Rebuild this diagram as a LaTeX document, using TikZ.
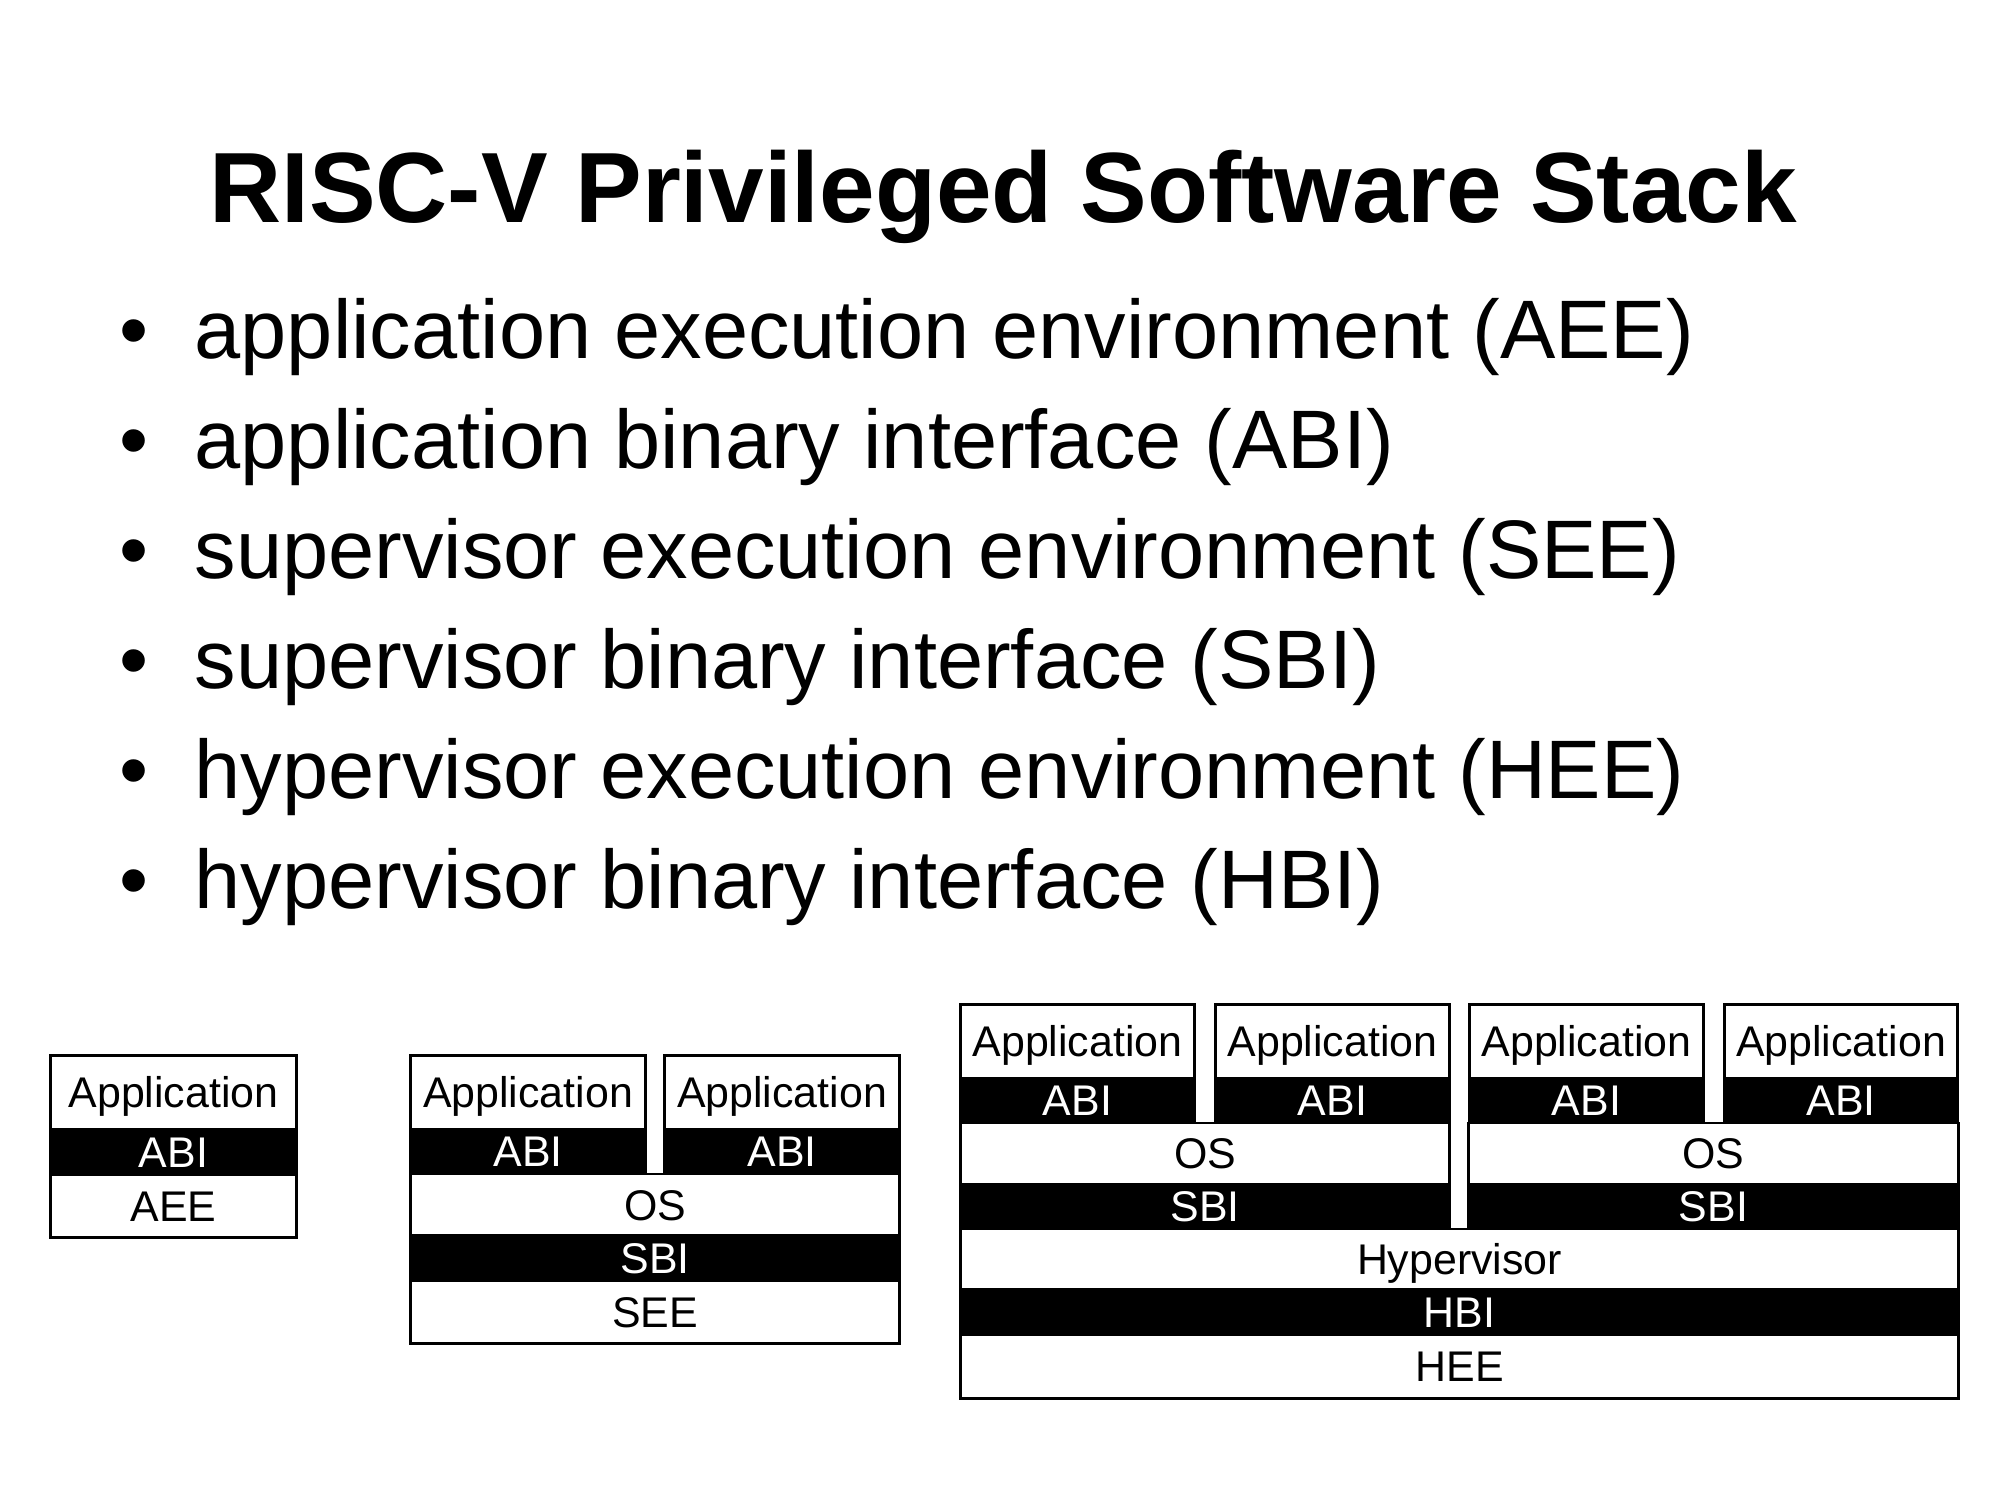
\documentclass[tikz,border=0pt]{standalone}
\usepackage{fontspec}
\setmainfont{Liberation Sans}
\begin{document}
\begin{tikzpicture}[x=0.01cm, y=-0.01cm,
  titlefont/.style={font=\fontsize{28.4}{34}\selectfont\bfseries},
  itemfont/.style={font=\fontsize{23.6}{29}\selectfont},
  layer/.style={draw=black, line width=0.85pt, inner sep=0pt,
    font=\fontsize{12.2}{14}\selectfont, text height=8.7pt, text depth=0pt},
  whitelayer/.style={layer, fill=white, text=black},
  blacklayer/.style={layer, fill=black, text=white},
]
\useasboundingbox[fill=white] (0,0) rectangle (2000,1500);

% heading
\node[titlefont, anchor=base] (title) at (1003,222) {RISC-V Privileged Software Stack};

% bullet list
\foreach \txt [count=\i from 0] in {
    application execution environment (AEE),
    application binary interface (ABI),
    supervisor execution environment (SEE),
    supervisor binary interface (SBI),
    hypervisor execution environment (HEE),
    hypervisor binary interface (HBI)} {
  \node[itemfont, anchor=base] (dot\i) at (134,358+110*\i) {•};
  \node[itemfont, anchor=base west, inner xsep=0pt] (item\i) at (194,358+110*\i) {\txt};
}

% stack 1: application on an AEE
\node[whitelayer, minimum width=2.45cm, minimum height=0.73cm] (aApp) at (173.5,1092.5) {Application};
\node[blacklayer, minimum width=2.45cm, minimum height=0.46cm] (aABI) at (173.5,1152) {ABI};
\node[whitelayer, minimum width=2.45cm, minimum height=0.62cm] (aAEE) at (173.5,1206) {AEE};

% stack 2: applications on an OS on a SEE
\node[whitelayer, minimum width=2.34cm, minimum height=0.73cm] (bAppL) at (528,1092.5) {Application};
\node[whitelayer, minimum width=2.34cm, minimum height=0.73cm] (bAppR) at (782,1092.5) {Application};
\node[blacklayer, minimum width=2.34cm, minimum height=0.45cm] (bABIL) at (528,1151.5) {ABI};
\node[blacklayer, minimum width=2.34cm, minimum height=0.45cm] (bABIR) at (782,1151.5) {ABI};
\node[whitelayer, minimum width=4.88cm, minimum height=0.62cm] (bOS) at (655,1205) {OS};
\node[blacklayer, minimum width=4.88cm, minimum height=0.46cm] (bSBI) at (655,1258) {SBI};
\node[whitelayer, minimum width=4.88cm, minimum height=0.62cm] (bSEE) at (655,1312) {SEE};

% stack 3: two guest OSes on a hypervisor on a HEE
\node[whitelayer, minimum width=2.33cm, minimum height=0.73cm] (cApp1) at (1077.5,1041.5) {Application};
\node[whitelayer, minimum width=2.33cm, minimum height=0.73cm] (cApp2) at (1332.5,1041.5) {Application};
\node[whitelayer, minimum width=2.33cm, minimum height=0.73cm] (cApp3) at (1586.5,1041.5) {Application};
\node[whitelayer, minimum width=2.33cm, minimum height=0.73cm] (cApp4) at (1841,1041.5) {Application};
\node[blacklayer, minimum width=2.33cm, minimum height=0.45cm] (cABI1) at (1077.5,1100.5) {ABI};
\node[blacklayer, minimum width=2.33cm, minimum height=0.45cm] (cABI2) at (1332.5,1100.5) {ABI};
\node[blacklayer, minimum width=2.33cm, minimum height=0.45cm] (cABI3) at (1586.5,1100.5) {ABI};
\node[blacklayer, minimum width=2.33cm, minimum height=0.45cm] (cABI4) at (1841,1100.5) {ABI};
\node[whitelayer, minimum width=4.88cm, minimum height=0.61cm] (cOSL) at (1205,1153.5) {OS};
\node[whitelayer, minimum width=4.89cm, minimum height=0.61cm] (cOSR) at (1713.5,1153.5) {OS};
\node[blacklayer, minimum width=4.88cm, minimum height=0.45cm] (cSBIL) at (1205,1206.5) {SBI};
\node[blacklayer, minimum width=4.89cm, minimum height=0.45cm] (cSBIR) at (1713.5,1206.5) {SBI};
\node[whitelayer, minimum width=9.97cm, minimum height=0.60cm] (cHyp) at (1459.5,1259) {Hypervisor};
\node[blacklayer, minimum width=9.97cm, minimum height=0.46cm] (cHBI) at (1459.5,1312) {HBI};
\node[whitelayer, minimum width=9.97cm, minimum height=0.63cm] (cHEE) at (1459.5,1366.5) {HEE};
\end{tikzpicture}
\end{document}
